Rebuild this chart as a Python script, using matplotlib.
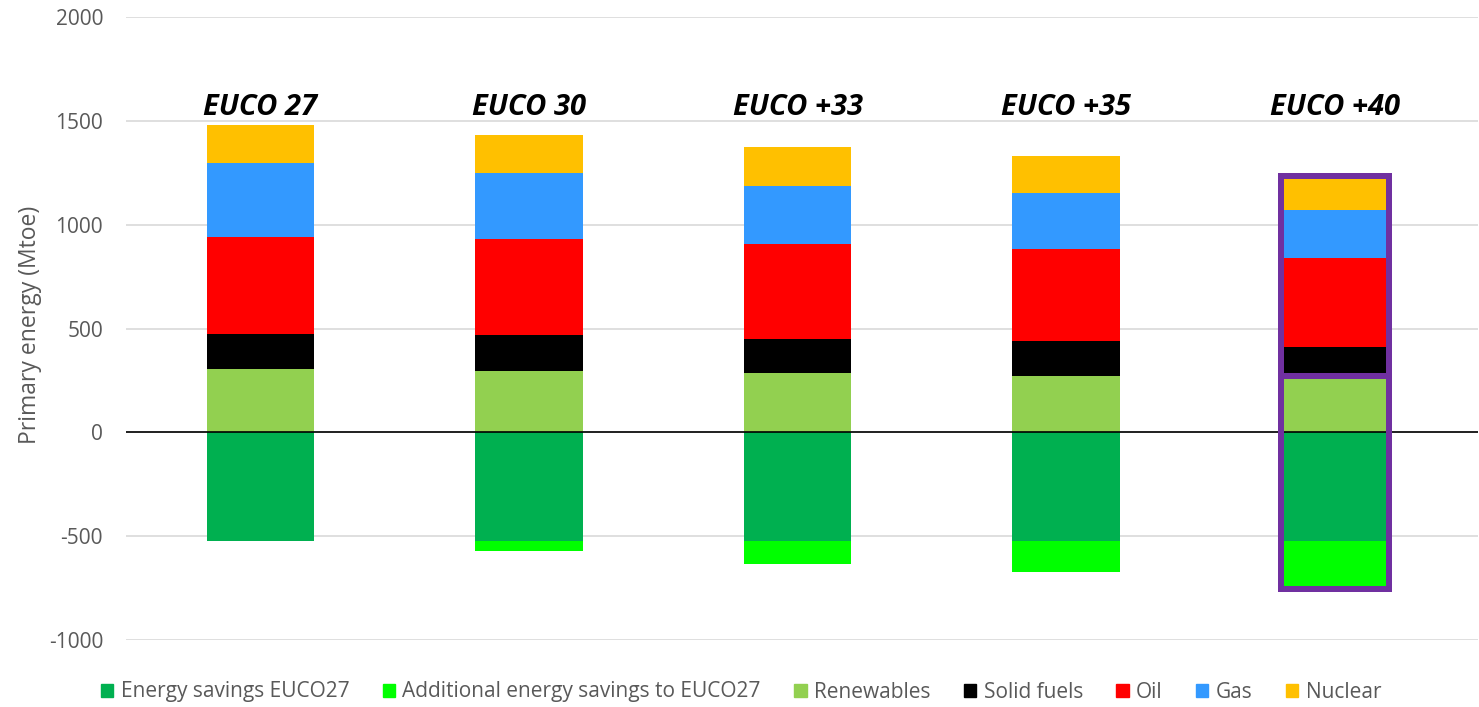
import numpy as np
import matplotlib.pyplot as plt
from matplotlib.patches import Patch, Rectangle

plt.rcParams['font.family'] = ['Open Sans', 'DejaVu Sans']
plt.rcParams['axes.unicode_minus'] = False

# Primary energy by scenario (Mtoe)
scenarios = ["EUCO 27", "EUCO 30", "EUCO +33", "EUCO +35", "EUCO +40"]
renewables = [307, 295, 286, 273, 272]
solid_fuels = [165, 172, 163, 167, 139]
oil = [468, 462, 456, 441, 428]
gas = [355, 319, 283, 270, 233]
nuclear = [186, 185, 184, 181, 160]
savings_euco27 = [-525, -525, -525, -525, -525]
additional_savings = [0, -48, -109, -149, -229]

yticks = [-1000, -500, 0, 500, 1000, 1500, 2000]

c_sav = "#00B050"
c_add = "#00FF00"
c_ren = "#92D050"
c_sol = "#000000"
c_oil = "#FF0000"
c_gas = "#3399FF"
c_nuc = "#FFC000"
purple = "#7030A0"
grey = "#595959"

fig = plt.figure(figsize=(14.79, 7.07), dpi=100)
ax = fig.add_axes([126 / 1479, 67 / 707, 1352 / 1479, 623 / 707])

x = np.arange(len(scenarios))
w = 0.4

# positive stack
bottom = np.zeros(len(x))
for vals, col in [(renewables, c_ren), (solid_fuels, c_sol), (oil, c_oil),
                  (gas, c_gas), (nuclear, c_nuc)]:
    ax.bar(x, vals, w, bottom=bottom, color=col, zorder=3)
    bottom += np.array(vals)
top_total = bottom.copy()

# negative stack (savings)
ax.bar(x, savings_euco27, w, color=c_sav, zorder=3)
ax.bar(x, additional_savings, w, bottom=savings_euco27, color=c_add, zorder=3)
neg_total = np.array(savings_euco27) + np.array(additional_savings)

# highlight the last scenario
i = len(x) - 1
lw = 6 * 72 / 100
ax.add_patch(Rectangle((x[i] - w / 2, neg_total[i]), w, renewables[i] - neg_total[i],
                       fill=False, edgecolor=purple, lw=lw, zorder=4))
ax.add_patch(Rectangle((x[i] - w / 2, renewables[i]), w, top_total[i] - renewables[i],
                       fill=False, edgecolor=purple, lw=lw, zorder=4))

# scenario names above the bars
for xi, name in zip(x, scenarios):
    ax.text(xi, 1565, name, ha="center", va="center", fontsize=21,
            fontweight="bold", fontstyle="italic", color="black", zorder=5)

ax.set_xlim(-0.5, 4.533)
ax.set_ylim(-1000, 2000)
ax.set_yticks(yticks)
ax.set_xticks([])
ax.tick_params(axis="y", length=0, labelsize=15, labelcolor=grey, pad=16.5)
ax.yaxis.grid(True, color="#D9D9D9", lw=1.2, zorder=0)
ax.axhline(0, color="black", lw=1.2, zorder=3.5)
for s in ax.spines.values():
    s.set_visible(False)
ax.set_ylabel("Primary energy (Mtoe)", fontsize=16.5, color=grey)
ax.yaxis.set_label_coords(-0.062, 0.5056)

handles = [Patch(color=c, label=l) for c, l in [
    (c_sav, "Energy savings EUCO27"),
    (c_add, "Additional energy savings to EUCO27"),
    (c_ren, "Renewables"),
    (c_sol, "Solid fuels"),
    (c_oil, "Oil"),
    (c_gas, "Gas"),
    (c_nuc, "Nuclear"),
]]
leg = fig.legend(handles=handles, loc="center", bbox_to_anchor=(741 / 1479, 1 - 692 / 707),
                 ncol=7, frameon=False, fontsize=15, handlelength=0.6, handleheight=0.6,
                 handletextpad=0.35, columnspacing=1.6, labelcolor=grey)

fig.savefig("out.png", dpi=100)
